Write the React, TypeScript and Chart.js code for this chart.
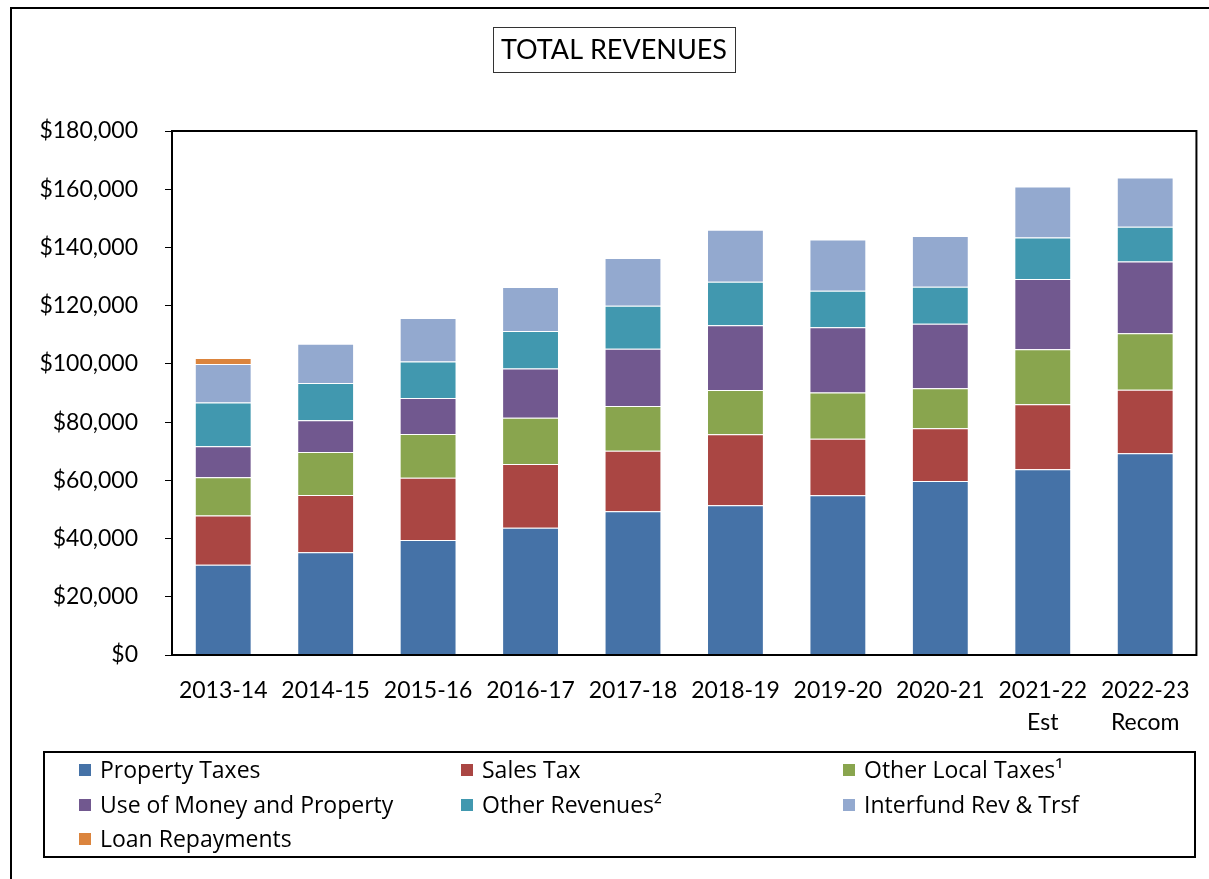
import React, { useEffect, useRef } from "react";
import { Chart, registerables } from "chart.js";

Chart.register(...registerables);

const W = 1209;
const H = 879;
const FONT = "Lato, 'Open Sans', sans-serif";
const LEGEND_FONT = "'Open Sans', Lato, sans-serif";

const categories: (string | string[])[] = [
  "2013-14", "2014-15", "2015-16", "2016-17", "2017-18",
  "2018-19", "2019-20", "2020-21", ["2021-22", "Est"], ["2022-23", "Recom"],
];

const propertyTaxes = [31000, 35300, 39500, 43700, 49400, 51400, 54900, 59800, 63800, 69300];
const salesTax = [16900, 19700, 21400, 21900, 20800, 24400, 19400, 18100, 22300, 21800];
const otherLocalTaxes = [13200, 14700, 15000, 15900, 15300, 15200, 15900, 13700, 18900, 19400];
const useOfMoney = [10600, 10900, 12400, 16900, 19700, 22300, 22400, 22200, 24200, 24700];
const otherRevenues = [15000, 12800, 12500, 12900, 14800, 14900, 12500, 12700, 14200, 11900];
const interfund = [13300, 13500, 15000, 15100, 16400, 17900, 17600, 17400, 17500, 16900];
const loanRepayments = [2000, 0, 0, 0, 0, 0, 0, 0, 0, 0];

const yTicks = [0, 20000, 40000, 60000, 80000, 100000, 120000, 140000, 160000, 180000];

const seriesNames = [
  "Property Taxes", "Sales Tax", "Other Local Taxes\u00B9",
  "Use of Money and Property", "Other Revenues\u00B2", "Interfund Rev & Trsf",
  "Loan Repayments",
];
const seriesColors = ["#4572A7", "#AA4643", "#89A54E", "#71588F", "#4198AF", "#93A9CF", "#DB843D"];
const seriesData = [propertyTaxes, salesTax, otherLocalTaxes, useOfMoney, otherRevenues, interfund, loanRepayments];

const framePlugin = {
  id: "frame",
  afterDraw(chart: any) {
    const ctx = chart.ctx as CanvasRenderingContext2D;
    const ca = chart.chartArea;
    ctx.save();
    // outer frame
    ctx.strokeStyle = "#000";
    ctx.lineWidth = 2;
    ctx.beginPath();
    ctx.moveTo(11, H);
    ctx.lineTo(11, 8);
    ctx.lineTo(W, 8);
    ctx.stroke();

    // title box
    ctx.lineWidth = 1;
    ctx.strokeStyle = "#333";
    ctx.strokeRect(493.5, 27.5, 242, 45);
    ctx.fillStyle = "#000";
    ctx.font = `27px ${FONT}`;
    ctx.textAlign = "center";
    ctx.textBaseline = "middle";
    ctx.fillText("TOTAL REVENUES", 614, 50);

    // plot border
    ctx.lineWidth = 2;
    ctx.strokeStyle = "#000";
    ctx.strokeRect(ca.left, ca.top, ca.right - ca.left, ca.bottom - ca.top);

    // legend box
    ctx.strokeRect(44, 752, 1151, 105);
    const colX = [79, 461, 843];
    const rowY = [770, 805, 839];
    ctx.font = `23px ${LEGEND_FONT}`;
    ctx.textAlign = "left";
    ctx.textBaseline = "middle";
    chart.data.datasets.forEach((ds: any, i: number) => {
      const x = colX[i % 3];
      const y = rowY[Math.floor(i / 3)];
      ctx.fillStyle = ds.backgroundColor;
      ctx.fillRect(x, y - 6, 12, 12);
      ctx.fillStyle = "#000";
      ctx.fillText(ds.label, x + 21, y + 1);
    });
    ctx.restore();
  },
};

export default function App() {
  const ref = useRef<HTMLCanvasElement>(null);
  useEffect(() => {
    const chart = new Chart(ref.current!, {
      type: "bar",
      data: {
        labels: categories,
        datasets: seriesNames.map((name, i) => ({
          label: name,
          data: seriesData[i],
          backgroundColor: seriesColors[i],
          borderColor: "rgba(255,255,255,0.45)",
          borderWidth: 1,
          categoryPercentage: 1,
          barPercentage: 0.555,
        })),
      },
      options: {
        responsive: false,
        animation: false,
        layout: { padding: { top: 131, right: 10, bottom: 124, left: 0 } },
        plugins: {
          legend: { display: false },
          title: { display: false },
          tooltip: { enabled: false },
        },
        scales: {
          x: {
            stacked: true,
            grid: { display: false, drawTicks: false },
            border: { display: false },
            ticks: {
              color: "#000",
              font: { family: FONT, size: 23, lineHeight: 1.4 },
              padding: 19,
              maxRotation: 0,
              autoSkip: false,
            },
            afterFit: (s: any) => { s.height = 100; },
          },
          y: {
            stacked: true,
            min: 0,
            max: 180000,
            afterBuildTicks: (s: any) => { s.ticks = yTicks.map((v) => ({ value: v })); },
            grid: { drawOnChartArea: false, tickLength: 7, color: "#000", lineWidth: 1 },
            border: { display: false },
            ticks: {
              color: "#000",
              font: { family: FONT, size: 23 },
              padding: 27,
              callback: (v: any) => "$" + Number(v).toLocaleString("en-US"),
            },
            afterFit: (s: any) => { s.width = 172; },
          },
        },
      },
      plugins: [framePlugin],
    });
    return () => chart.destroy();
  }, []);
  return (
    <div style={{ position: "absolute", left: 0, top: 0, width: W, height: H, background: "#fff" }}>
      <canvas ref={ref} width={W} height={H} style={{ display: "block" }} />
    </div>
  );
}
